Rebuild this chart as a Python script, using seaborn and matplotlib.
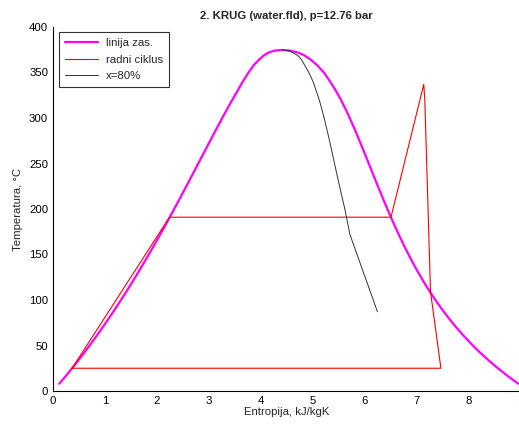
import matplotlib
matplotlib.use("Agg")
import matplotlib.pyplot as plt
import pandas as pd
import seaborn as sns

# saturation line (water), T in degC, s in kJ/kgK
sat_t = [8, 10, 15, 20, 25, 30, 35, 40, 45, 50, 60, 70, 80, 90, 100, 110, 120,
         130, 140, 150, 160, 170, 180, 190, 200, 210, 220, 230, 240, 250, 260,
         270, 280, 290, 300, 310, 320, 330, 340, 350, 358, 364, 369, 372, 374]
sat_sf = [0.121, 0.1511, 0.2245, 0.2965, 0.3672, 0.4368, 0.5051, 0.5724, 0.6386,
          0.7038, 0.8313, 0.9551, 1.0756, 1.1929, 1.3072, 1.4188, 1.5279, 1.6346,
          1.7392, 1.8418, 1.9426, 2.0417, 2.1392, 2.2355, 2.3305, 2.4245, 2.5177,
          2.6101, 2.7020, 2.7935, 2.8849, 2.9765, 3.0685, 3.1612, 3.2552, 3.3510,
          3.4494, 3.55, 3.65, 3.76, 3.86, 3.96, 4.06, 4.15, 4.26]
sat_sg = [8.950, 8.8998, 8.7803, 8.6660, 8.5566, 8.4520, 8.3517, 8.2555, 8.1633,
          8.0748, 7.9081, 7.7540, 7.6111, 7.4781, 7.3541, 7.2381, 7.1291, 7.0264,
          6.9293, 6.8371, 6.7491, 6.6650, 6.5840, 6.5059, 6.4302, 6.3563, 6.2840,
          6.2128, 6.1423, 6.0721, 6.0016, 5.9304, 5.8579, 5.7834, 5.7059, 5.6244,
          5.5372, 5.44, 5.33, 5.21, 5.08, 4.96, 4.83, 4.71, 4.56]
crit_t = 374.8
crit_s = 4.40

# working cycle
cyc_s = [0.367, 2.24, 6.50, 7.13, 7.15, 7.26, 7.46, 0.367]
cyc_t = [25, 191, 191, 337, 320, 109, 25, 25]

# x = 80% line
x80_t = [374.8, 373.5, 371, 368, 364, 358, 350, 340, 320, 300, 280, 260, 240, 220, 200, 172, 87]
x80_s = [4.41, 4.55, 4.64, 4.72, 4.78, 4.84, 4.92, 5.001, 5.120, 5.215, 5.298,
         5.376, 5.452, 5.531, 5.612, 5.71, 6.24]


def main():
    sns.set_style("white")
    plt.rcParams["font.family"] = ["Liberation Sans", "DejaVu Sans"]
    fs = 8.2

    sat = pd.DataFrame({
        "s": sat_sf + [crit_s] + sat_sg[::-1],
        "T": sat_t + [crit_t] + sat_t[::-1],
    })
    cyc = pd.DataFrame({"s": cyc_s, "T": cyc_t})
    x80 = pd.DataFrame({"s": x80_s, "T": x80_t})

    fig = plt.figure(figsize=(5.19, 4.25), dpi=100)
    ax = fig.add_axes([53 / 519, 34 / 425, 468 / 519, 364 / 425])

    sns.lineplot(data=sat, x="s", y="T", sort=False, estimator=None,
                 color="#ff00ff", linewidth=1.6, label="linija zas.", ax=ax)
    sns.lineplot(data=cyc, x="s", y="T", sort=False, estimator=None,
                 color="#ff0000", linewidth=0.8, label="radni ciklus", ax=ax)
    sns.lineplot(data=x80, x="s", y="T", sort=False, estimator=None,
                 color="#333333", linewidth=0.7, label="x=80%", ax=ax)

    ax.set_xlim(0, 9)
    ax.set_ylim(0, 400)
    ax.set_xticks(range(0, 9))
    ax.set_yticks(range(0, 401, 50))
    ax.tick_params(direction="in", length=3, width=0.8, labelsize=fs, colors="black")
    ax.spines["top"].set_visible(False)
    ax.spines["right"].set_visible(False)
    for sp in ["left", "bottom"]:
        ax.spines[sp].set_color("black")
        ax.spines[sp].set_linewidth(0.8)

    ax.set_xlabel("Entropija, kJ/kgK", fontsize=fs, labelpad=1)
    ax.set_ylabel("Temperatura, °C", fontsize=fs, labelpad=4)
    ax.set_title("2. KRUG (water.fld), p=12.76 bar", fontsize=fs,
                 fontweight="bold", pad=6, x=(286 - 53) / 468)

    leg = ax.legend(loc="upper left", bbox_to_anchor=(6 / 468, 1 - 5 / 364),
                    frameon=True, fancybox=False, fontsize=fs,
                    handlelength=2.9, borderpad=0.5, labelspacing=0.6,
                    handletextpad=0.7, borderaxespad=0)
    leg.get_frame().set_edgecolor("black")
    leg.get_frame().set_linewidth(0.8)

    fig.savefig("out.png", dpi=100)


if __name__ == "__main__":
    main()
